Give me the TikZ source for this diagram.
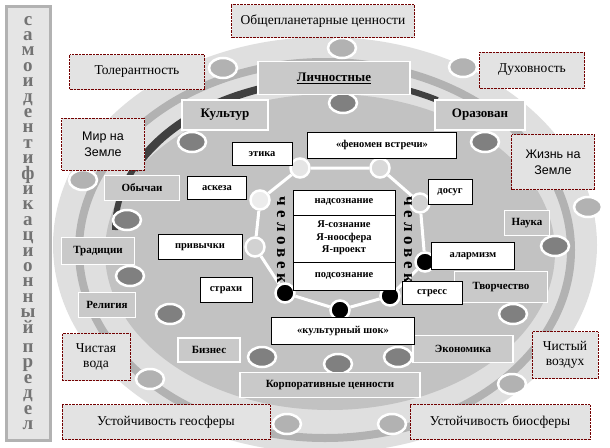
\documentclass[tikz,border=0pt]{standalone}
\usepackage{fontspec}
\setmainfont{Liberation Serif}
\newfontfamily\arialish{Liberation Sans}
\usetikzlibrary{positioning}
\usetikzlibrary{shapes.geometric}

\tikzset{
  val/.style={fill=gray!22, draw=red!45!black, densely dotted, inner sep=1pt, align=center, font=\fontsize{13.5}{15}\selectfont},
  grp/.style={fill=gray!42, draw=white, line width=1.5pt, inner sep=1pt, font=\bfseries\fontsize{13}{15}\selectfont},
  sgrp/.style={grp, font=\bfseries\fontsize{11}{13}\selectfont},
  tag/.style={fill=white, draw=black, semithick, inner sep=1pt, font=\bfseries\fontsize{10.5}{12}\selectfont},
  knob/.style={ellipse, minimum width=28pt, minimum height=20pt, draw=white, line width=2.5pt},
  spot/.style={circle, minimum size=19pt, draw=white, line width=2.5pt},
  man/.style={rotate=-90, font=\bfseries\fontsize{17}{17}\addfontfeature{LetterSpace=25}\selectfont}
}

\begin{document}
\begin{tikzpicture}[x=1pt,y=-1pt]
  \useasboundingbox (0,0) rectangle (610,447);

  % rings
  \fill[gray!25] (325,245) ellipse (272 and 208);
  \draw[gray!60, line width=8pt] (325,250) ellipse (246 and 188);
  \fill[gray!48] (330,252) ellipse (225 and 158);
  \draw[black!75, line width=6pt] (115,230) arc (180:300:215 and 150);
  \draw[black!75, line width=6pt] (135,170) arc (205:290:220 and 155);

  % left bar
  \node[fill=gray!20, draw=gray!60, line width=3pt, minimum width=44pt, minimum height=434pt] (bar) at (28,223) {};
  \node[align=center, text=black!55, font=\bfseries\fontsize{19}{15.4}\selectfont] (barText) at (28,223)
    {с\\а\\м\\о\\и\\д\\е\\н\\т\\и\\ф\\и\\к\\а\\ц\\и\\о\\н\\н\\ы\\й\\[4pt]п\\р\\е\\д\\е\\л};

  % outer ring knobs
  \foreach \p/\n in {(223,68)/o1,(342,48)/o2,(463,67)/o3,(83,180)/o4,(588,207)/o5,(150,379)/o6,(512,384)/o7,(287,424)/o8,(392,424)/o9}
    \node[knob, fill=black!30] (\n) at \p {};
  % middle ring knobs
  \foreach \p/\n in {(192,142)/m1,(343,103)/m2,(485,142)/m3,(127,220)/m4,(130,276)/m5,(170,314)/m6,(555,246)/m7,(513,314)/m8,(262,357)/m9,(338,364)/m10,(398,357)/m11}
    \node[knob, fill=black!50] (\n) at \p {};

  % inner ring
  \node[spot, fill=gray!15] (p1) at (260,200) {};
  \node[spot, fill=gray!20] (p2) at (300,168) {};
  \node[spot, fill=gray!30] (p3) at (380,168) {};
  \node[spot, fill=gray!35] (p4) at (420,203) {};
  \node[spot, fill=black] (p5) at (425,262) {};
  \node[spot, fill=black] (p6) at (390,296) {};
  \node[spot, fill=black] (p7) at (340,310) {};
  \node[spot, fill=black] (p8) at (285,293) {};
  \node[spot, fill=gray!35] (p9) at (255,247) {};
  \draw[white, line width=3pt] (p2) -- (p3) -- (p4) -- (p5) -- (p6) -- (p7) -- (p8) -- (p9) -- (p1) -- (p2);

  % centre
  \node[draw, fill=white, minimum width=102pt, minimum height=100pt] (core) at (344,240) {};
  \draw (core.west |- 0,215) -- (core.east |- 0,215);
  \draw (core.west |- 0,262) -- (core.east |- 0,262);
  \node[font=\bfseries\fontsize{10.5}{12}\selectfont] (supra) at (344,202) {надсознание};
  \node[font=\bfseries\fontsize{10.5}{12.5}\selectfont, align=center] (ego) at (344,238) {Я-сознание\\Я-ноосфера\\Я-проект};
  \node[font=\bfseries\fontsize{10.5}{12}\selectfont] (sub) at (344,276) {подсознание};
  \node[man] (manL) at (281,240) {человек};
  \node[man] (manR) at (408,240) {человек};

  % outer values
  \node[val, minimum width=183pt, minimum height=33pt] (planet) at (323,21) {Общепланетарные ценности};
  \node[val, minimum width=135pt, minimum height=35pt] (toler) at (137,72) {Толерантность};
  \node[val, minimum width=105pt, minimum height=36pt] (spirit) at (532,70) {Духовность};
  \node[val, font=\arialish\fontsize{12.5}{16}\selectfont, minimum width=83pt, minimum height=52pt] (peace) at (103,144) {Мир на\\Земле};
  \node[val, font=\arialish\fontsize{12.5}{16}\selectfont, minimum width=83pt, minimum height=55pt] (life) at (553,162) {Жизнь на\\Земле};
  \node[val, minimum width=68pt, minimum height=47pt] (water) at (96,357) {Чистая\\вода};
  \node[val, minimum width=66pt, minimum height=47pt] (air) at (565,355) {Чистый\\воздух};
  \node[val, minimum width=208pt, minimum height=35pt] (geo) at (166,422) {Устойчивость геосферы};
  \node[val, minimum width=180pt, minimum height=35pt] (bio) at (500,422) {Устойчивость биосферы};

  % grey groups
  \node[grp, minimum width=152pt, minimum height=33pt] (person) at (334,78) {\underline{Личностные}};
  \node[grp, minimum width=86pt, minimum height=30pt] (cult) at (225,115) {Культур};
  \node[grp, minimum width=90pt, minimum height=30pt] (edu) at (480,115) {Оразован};
  \node[sgrp, minimum width=75pt, minimum height=25pt] (custom) at (142,188) {Обычаи};
  \node[sgrp, minimum width=45pt, minimum height=25pt] (sci) at (527,223) {Наука};
  \node[sgrp, minimum width=73pt, minimum height=27pt] (trad) at (98,251) {Традиции};
  \node[sgrp, minimum width=93pt, minimum height=31pt] (art) at (501,287) {Творчество};
  \node[sgrp, minimum width=57pt, minimum height=25pt] (relig) at (107,305) {Религия};
  \node[sgrp, minimum width=62pt, minimum height=24pt] (biz) at (209,350) {Бизнес};
  \node[sgrp, minimum width=100pt, minimum height=27pt] (econ) at (463,349) {Экономика};
  \node[sgrp, minimum width=180pt, minimum height=25pt] (corp) at (330,385) {Корпоративные ценности};

  % white tags
  \node[tag, minimum width=60pt, minimum height=23pt] (ethic) at (262,154) {этика};
  \node[tag, minimum width=149pt, minimum height=26pt] (meet) at (382,145) {«феномен встречи»};
  \node[tag, minimum width=59pt, minimum height=23pt] (ascet) at (217,188) {аскеза};
  \node[tag, minimum width=44pt, minimum height=25pt] (leis) at (450,192) {досуг};
  \node[tag, minimum width=84pt, minimum height=25pt] (habit) at (200,247) {привычки};
  \node[tag, minimum width=83pt, minimum height=27pt] (alarm) at (473,256) {алармизм};
  \node[tag, minimum width=52pt, minimum height=25pt] (fear) at (226,290) {страхи};
  \node[tag, minimum width=60pt, minimum height=23pt] (stress) at (432,293) {стресс};
  \node[tag, minimum width=143pt, minimum height=27pt] (shock) at (343,331) {«культурный шок»};
\end{tikzpicture}
\end{document}
